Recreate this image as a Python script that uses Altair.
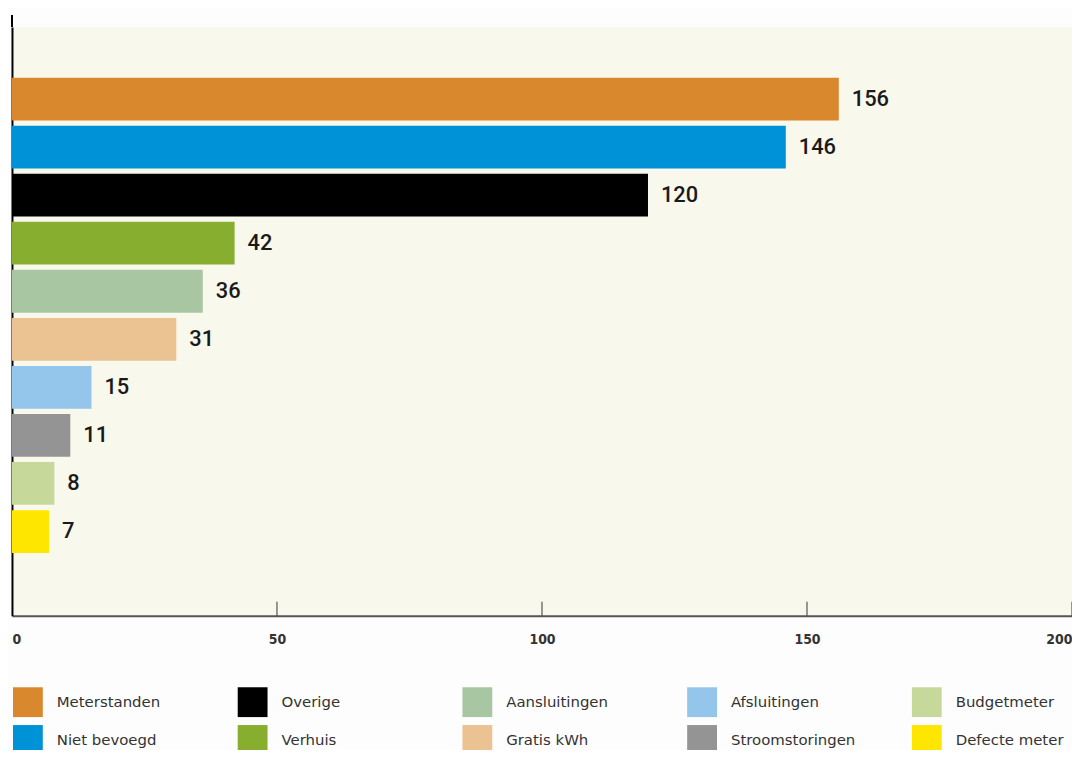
import altair as alt
import pandas as pd

categories = ["Meterstanden", "Niet bevoegd", "Overige", "Verhuis", "Aansluitingen",
              "Gratis kWh", "Afsluitingen", "Stroomstoringen", "Budgetmeter", "Defecte meter"]
values = [156, 146, 120, 42, 36, 31, 15, 11, 8, 7]
colors = ["#D9882E", "#0092D6", "#000000", "#87AE2F", "#A9C6A2",
          "#EBC292", "#93C6EA", "#949494", "#C6D99A", "#FFE600"]
tick_values = [0, 50, 100, 150, 200]

df = pd.DataFrame({"cat": categories, "value": values})

# empty slots above and below the bars, as in the reference
y_domain = [" "] + categories + ["  "]

x_scale = alt.Scale(domain=[0, 200], nice=False)
y_scale = alt.Scale(domain=y_domain, paddingInner=0.11, paddingOuter=0.18, align=0.15)

bars = alt.Chart(df).mark_bar().encode(
    x=alt.X("value:Q", scale=x_scale, title=None,
            axis=alt.Axis(values=tick_values, ticks=False, grid=False, labelFlush=True,
                          labelFont="DejaVu Sans Condensed", labelFontSize=14,
                          labelFontWeight="bold",
                          labelColor="#333333", labelPadding=17,
                          domainColor="#555555", domainWidth=2)),
    y=alt.Y("cat:N", scale=y_scale, title=None,
            axis=alt.Axis(labels=False, ticks=False, domainColor="#000000", domainWidth=2)),
    color=alt.Color("cat:N", scale=alt.Scale(domain=categories, range=colors),
                    legend=alt.Legend(orient="none", legendX=1, legendY=664, columns=5,
                                      symbolType="square", symbolSize=900,
                                      symbolStrokeWidth=0, symbolOpacity=1,
                                      labelFont="DejaVu Sans", labelFontSize=15,
                                      labelColor="#333333", labelOffset=14,
                                      columnPadding=56, rowPadding=8, gridAlign="all",
                                      labelLimit=300, title=None)),
)

labels = alt.Chart(df).mark_text(align="left", baseline="middle", dx=13,
                                 font="Roboto", fontSize=22, fontWeight=500,
                                 color="#1a1a1a").encode(
    x=alt.X("value:Q", scale=x_scale),
    y=alt.Y("cat:N", scale=y_scale),
    text="value:Q",
)

ticks_df = pd.DataFrame({"t": tick_values[1:]})
ticks = alt.Chart(ticks_df).mark_rule(color="#333333", strokeWidth=1).encode(
    x=alt.X("t:Q", scale=x_scale),
    y=alt.value(578), y2=alt.value(592),
)

top_ext = alt.Chart(ticks_df).mark_rule(color="#000000", strokeWidth=2).encode(
    x=alt.value(0), y=alt.value(-12), y2=alt.value(0),
)

chart = alt.layer(bars, labels, ticks, top_ext).properties(
    width=1066, height=592,
    padding={"left": 4, "top": 17, "right": 0, "bottom": 133},
    autosize=alt.AutoSizeParams(type="none"),
    background="#FDFDFD",
).configure_view(fill="#F8F9EC", stroke=None)

chart.save("out.html", embed_options={"renderer": "svg", "actions": False})
